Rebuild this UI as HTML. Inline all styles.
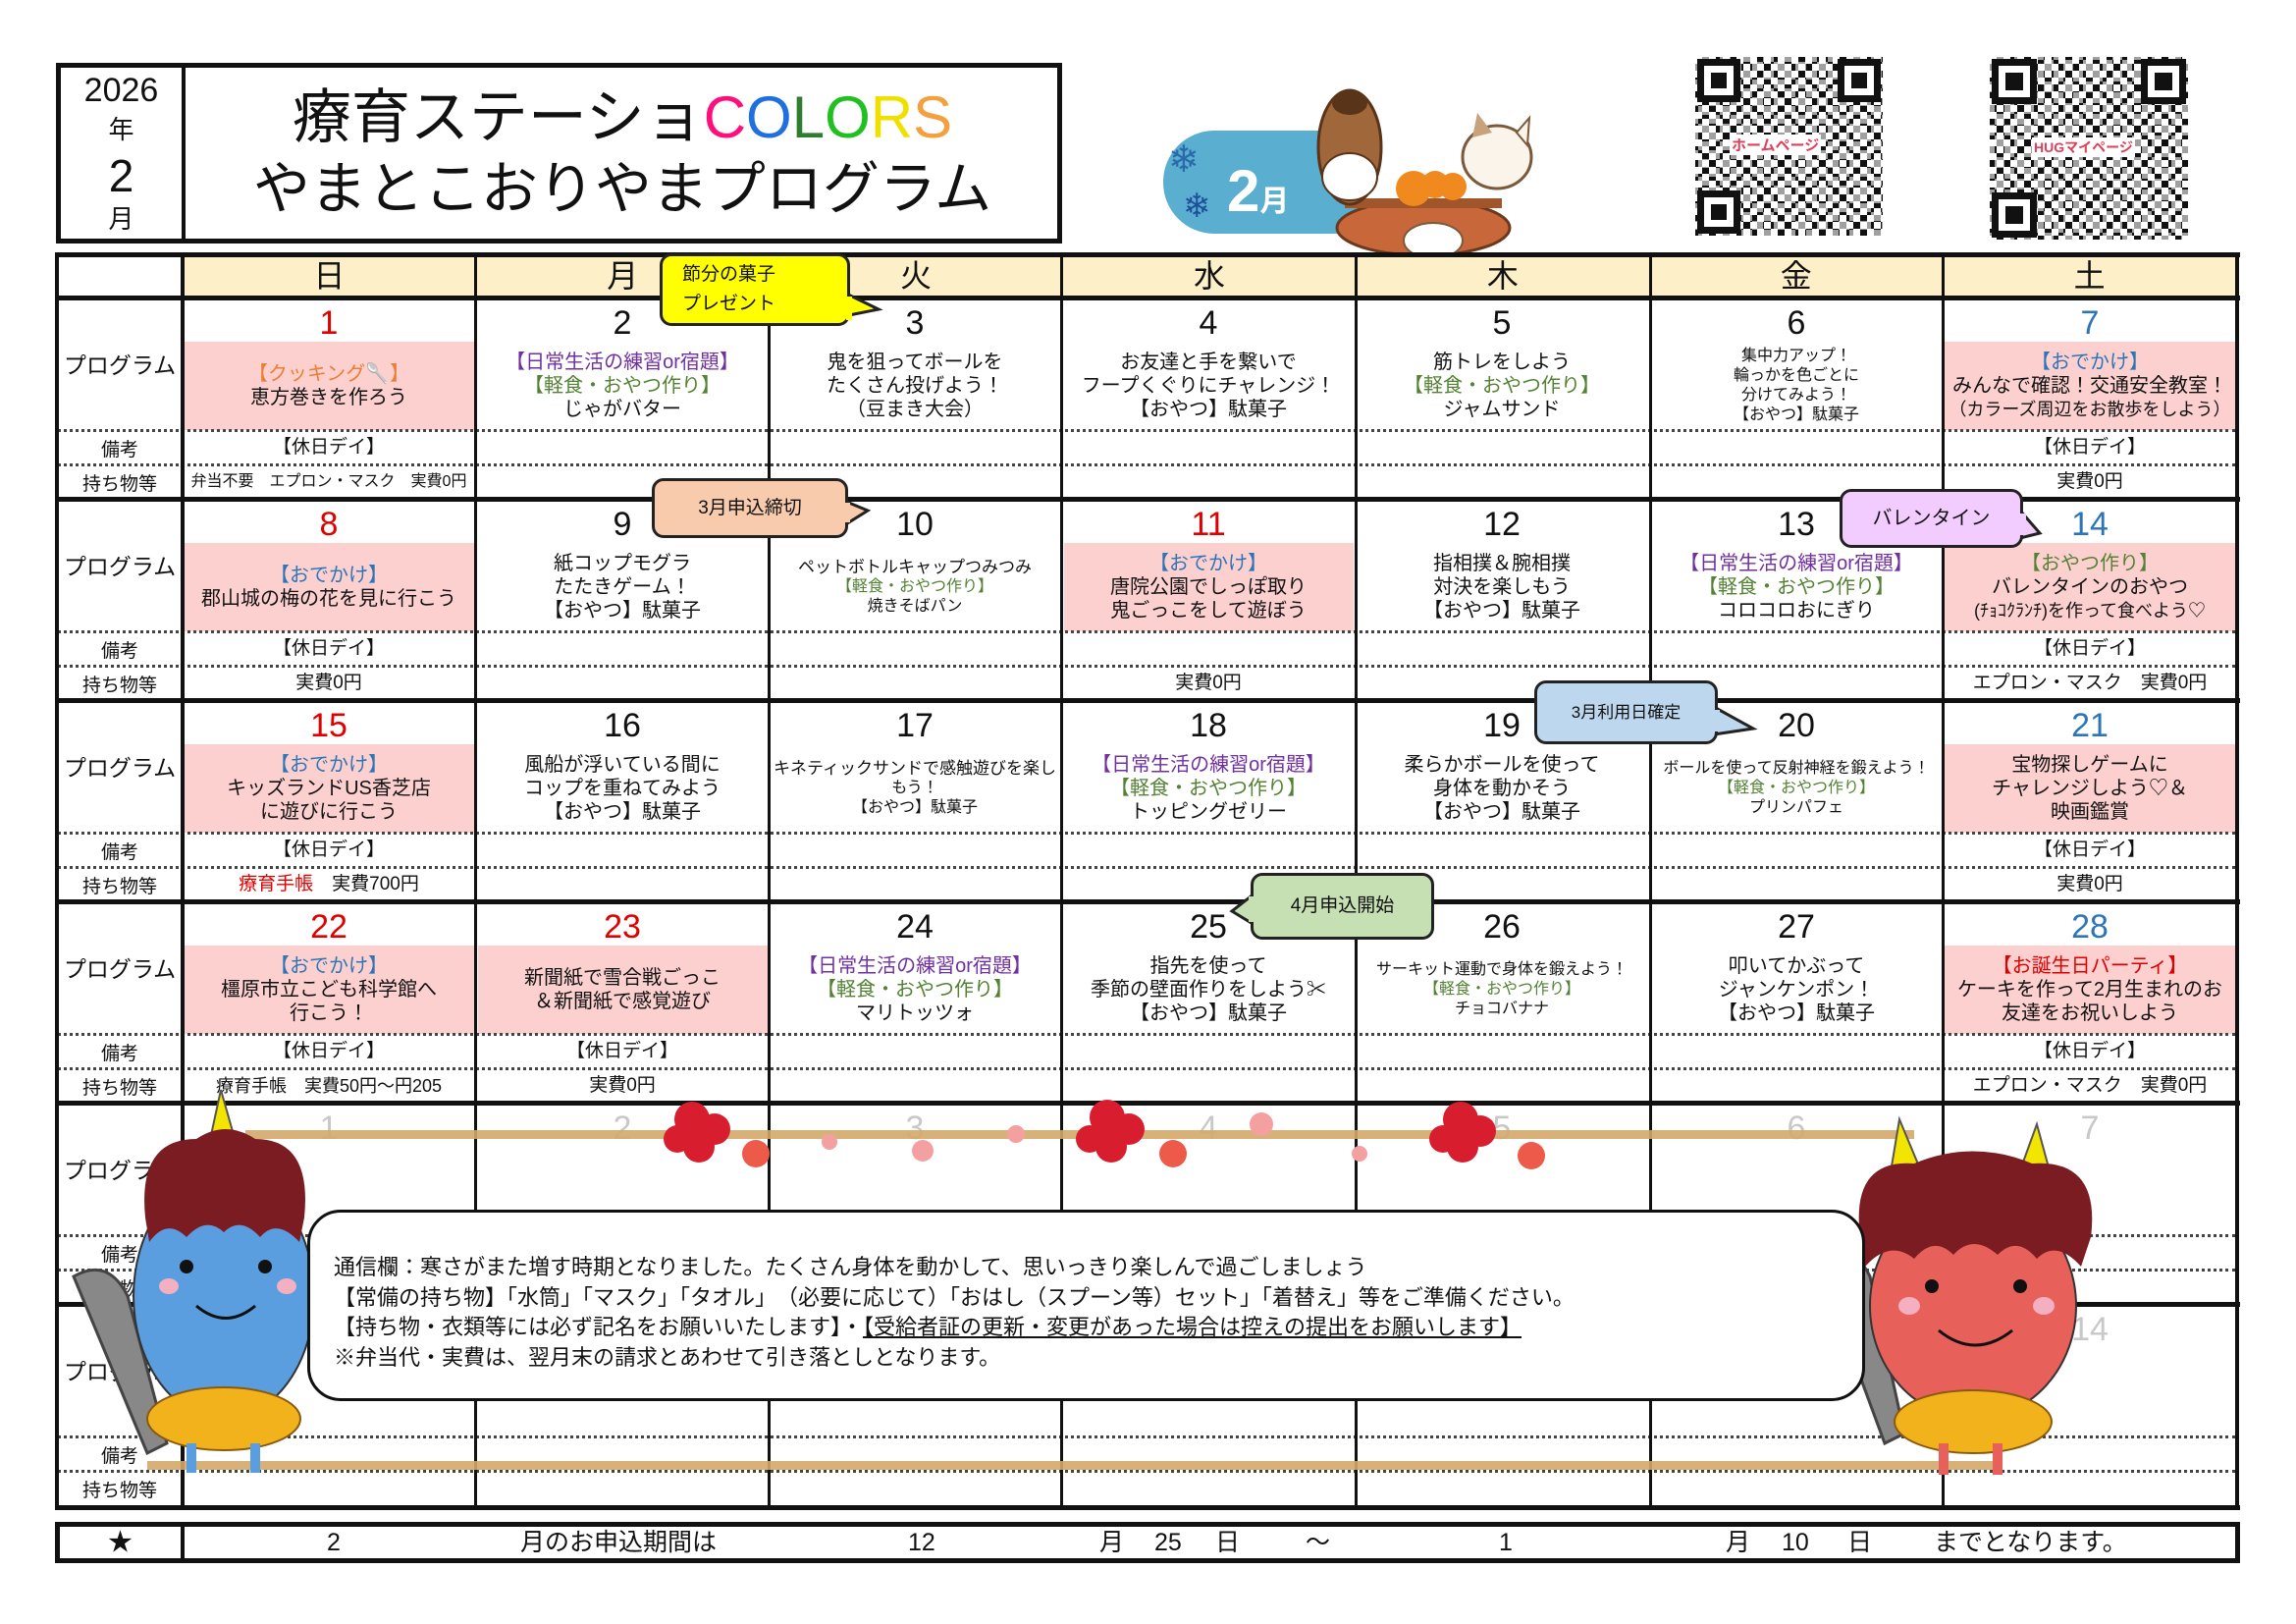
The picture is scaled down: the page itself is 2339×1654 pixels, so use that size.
<!DOCTYPE html>
<html><head><meta charset="utf-8">
<style>
*{margin:0;padding:0;box-sizing:border-box}
body{width:2339px;height:1654px;background:#fff;position:relative;overflow:hidden;font-family:"Liberation Sans","Noto Sans CJK JP",sans-serif;color:#111}
.a{position:absolute}
.hl{position:absolute;background:#111}
.dl{position:absolute;height:0;border-top:3px dotted #444}
.c{position:absolute;width:298px;height:135px}
.n{position:absolute;left:0;right:0;top:6px;text-align:center;font-size:34px;line-height:40px}
.p{position:absolute;left:2px;right:2px;top:45px;height:90px;display:flex;flex-direction:column;justify-content:center;align-items:center;font-size:20px;line-height:24px;text-align:center;white-space:nowrap}
.pk{background:#fdd0d0}
.s{font-size:16px;line-height:20px}
.r{position:absolute;width:298px;height:34px;text-align:center;font-size:19px;line-height:34px;white-space:nowrap}
.lb{position:absolute;left:58px;width:128px;text-align:center;white-space:nowrap}
.or{color:#ed7d31}.pu{color:#7030a0}.gr{color:#548235}.bl{color:#2e75b6}.rd{color:#e00000}
.gy{color:#c8c8c8}
.co{position:absolute;border:3px solid #222;border-radius:12px;display:flex;align-items:center;justify-content:center;font-size:19px;text-align:center;line-height:28px}
</style></head><body>

<!-- header box -->
<div class="a" style="left:57px;top:64px;width:1025px;height:184px;border:5px solid #111"></div>
<div class="hl" style="left:185px;top:64px;width:4px;height:184px"></div>
<div class="a" style="left:62px;top:68px;width:123px;text-align:center">
 <div style="font-size:34px;line-height:40px;margin-top:4px">2026</div>
 <div style="font-size:26px;line-height:40px">年</div>
 <div style="font-size:46px;line-height:54px">2</div>
 <div style="font-size:26px;line-height:34px">月</div>
</div>
<div class="a" style="left:189px;top:84px;width:890px;text-align:center;font-size:60px;line-height:72px;white-space:nowrap">療育ステーショ<span style="color:#ff0f7b">C</span><span style="color:#1f6fe0">O</span><span style="color:#2f7d2f">L</span><span style="color:#20c020">O</span><span style="color:#f0e000">R</span><span style="color:#f5a040">S</span></div>
<div class="a" style="left:189px;top:157px;width:890px;text-align:center;font-size:58px;line-height:72px;white-space:nowrap">やまとこおりやまプログラム</div>

<!-- 2月 banner -->
<div class="a" style="left:1185px;top:133px;width:200px;height:105px;background:#5aaed0;border-radius:52px 0 0 52px"></div>
<div class="a" style="left:1190px;top:140px;font-size:38px;color:#2a6aa8">❄</div>
<div class="a" style="left:1205px;top:190px;font-size:34px;color:#1e4f9a">❄</div>
<div class="a" style="left:1250px;top:160px;font-size:60px;font-weight:bold;color:#fff;line-height:70px">2<span style="font-size:30px">月</span></div>
<svg class="a" style="left:1330px;top:80px" width="250" height="180" viewBox="0 0 250 180">
 <ellipse cx="120" cy="152" rx="88" ry="28" fill="#c8683a" stroke="#6b3a1e" stroke-width="3"/>
 <rect x="40" y="122" width="160" height="10" fill="#a0562a"/>
 <ellipse cx="45" cy="70" rx="32" ry="58" fill="#a0673a" stroke="#5a3418" stroke-width="3"/>
 <ellipse cx="45" cy="100" rx="28" ry="24" fill="#fff" stroke="#5a3418" stroke-width="2"/>
 <ellipse cx="45" cy="25" rx="18" ry="12" fill="#5a3418"/>
 <circle cx="110" cy="112" r="18" fill="#f08a1e"/><circle cx="132" cy="108" r="14" fill="#f08a1e"/><circle cx="150" cy="110" r="14" fill="#f08a1e"/>
 <ellipse cx="195" cy="80" rx="35" ry="32" fill="#fbf4ea" stroke="#7a5a3a" stroke-width="3"/>
 <polygon points="170,60 175,35 190,55" fill="#c8a27a"/><polygon points="215,55 228,40 226,68" fill="#fbf4ea" stroke="#7a5a3a" stroke-width="2"/>
 <ellipse cx="130" cy="165" rx="30" ry="18" fill="#fff" stroke="#7a5a3a" stroke-width="2"/>
</svg>

<!-- QR codes -->
<div class="a" style="left:1727px;top:58px;width:191px;height:182px;background:repeating-conic-gradient(#111 0 25%,#fff 0 50%) 0 0/14px 14px"></div>
<div class="a" style="left:1727px;top:58px;width:191px;height:182px;background:repeating-conic-gradient(#fff 0 25%,transparent 0 50%) 3px 5px/22px 18px;opacity:.6"></div>
<div class="a" style="left:1729px;top:60px;width:44px;height:44px;border:7px solid #111;background:#fff"><div style="margin:7px;width:16px;height:16px;background:#111"></div></div>
<div class="a" style="left:1872px;top:60px;width:44px;height:44px;border:7px solid #111;background:#fff"><div style="margin:7px;width:16px;height:16px;background:#111"></div></div>
<div class="a" style="left:1729px;top:194px;width:44px;height:44px;border:7px solid #111;background:#fff"><div style="margin:7px;width:16px;height:16px;background:#111"></div></div>
<div class="a" style="left:1762px;top:137px;background:#fff;color:#e0405a;font-size:15px;font-weight:bold;padding:0 2px">ホームページ</div>
<div class="a" style="left:2027px;top:58px;width:202px;height:186px;background:repeating-conic-gradient(#111 0 25%,#fff 0 50%) 0 0/14px 14px"></div>
<div class="a" style="left:2027px;top:58px;width:202px;height:186px;background:repeating-conic-gradient(#fff 0 25%,transparent 0 50%) 5px 3px/20px 22px;opacity:.6"></div>
<div class="a" style="left:2029px;top:60px;width:46px;height:46px;border:7px solid #111;background:#fff"><div style="margin:7px;width:18px;height:18px;background:#111"></div></div>
<div class="a" style="left:2181px;top:60px;width:46px;height:46px;border:7px solid #111;background:#fff"><div style="margin:7px;width:18px;height:18px;background:#111"></div></div>
<div class="a" style="left:2029px;top:196px;width:46px;height:46px;border:7px solid #111;background:#fff"><div style="margin:7px;width:18px;height:18px;background:#111"></div></div>
<div class="a" style="left:2070px;top:140px;background:#fff;color:#e0405a;font-size:14px;font-weight:bold;padding:0 2px">HUGマイページ</div>

<!-- grid background -->
<div class="a" style="left:186px;top:260px;width:2092px;height:43px;background:#fdf0c8"></div>
<!-- pink blocks -->
<div class="a pk" style="left:188px;top:348px;width:296px;height:90px"></div>
<div class="a pk" style="left:1981px;top:348px;width:296px;height:90px"></div>
<div class="a pk" style="left:188px;top:553px;width:296px;height:90px"></div>
<div class="a pk" style="left:1084px;top:553px;width:295px;height:90px"></div>
<div class="a pk" style="left:1981px;top:553px;width:296px;height:90px"></div>
<div class="a pk" style="left:188px;top:758px;width:296px;height:90px"></div>
<div class="a pk" style="left:1981px;top:758px;width:296px;height:90px"></div>
<div class="a pk" style="left:188px;top:963px;width:296px;height:90px"></div>
<div class="a pk" style="left:487px;top:963px;width:295px;height:90px"></div>
<div class="a pk" style="left:1981px;top:963px;width:296px;height:90px"></div>

<!-- dotted lines -->
<div class="dl" style="left:58px;top:437px;width:2220px"></div><div class="dl" style="left:58px;top:472px;width:2220px"></div>
<div class="dl" style="left:58px;top:642px;width:2220px"></div><div class="dl" style="left:58px;top:677px;width:2220px"></div>
<div class="dl" style="left:58px;top:847px;width:2220px"></div><div class="dl" style="left:58px;top:882px;width:2220px"></div>
<div class="dl" style="left:58px;top:1052px;width:2220px"></div><div class="dl" style="left:58px;top:1087px;width:2220px"></div>
<div class="dl" style="left:58px;top:1257px;width:2220px"></div><div class="dl" style="left:58px;top:1292px;width:2220px"></div>
<div class="dl" style="left:58px;top:1462px;width:2220px"></div><div class="dl" style="left:58px;top:1497px;width:2220px"></div>

<!-- grid lines -->
<div class="hl" style="left:56px;top:257px;width:2226px;height:5px"></div>
<div class="hl" style="left:56px;top:301px;width:2226px;height:5px"></div>
<div class="hl" style="left:56px;top:506px;width:2226px;height:5px"></div>
<div class="hl" style="left:56px;top:711px;width:2226px;height:5px"></div>
<div class="hl" style="left:56px;top:916px;width:2226px;height:5px"></div>
<div class="hl" style="left:56px;top:1121px;width:2226px;height:5px"></div>
<div class="hl" style="left:56px;top:1326px;width:2226px;height:5px"></div>
<div class="hl" style="left:56px;top:1533px;width:2226px;height:5px"></div>
<div class="hl" style="left:56px;top:257px;width:4px;height:1281px"></div>
<div class="hl" style="left:184px;top:257px;width:4px;height:1281px"></div>
<div class="hl" style="left:483px;top:257px;width:3px;height:1281px"></div>
<div class="hl" style="left:782px;top:257px;width:3px;height:1281px"></div>
<div class="hl" style="left:1080px;top:257px;width:3px;height:1281px"></div>
<div class="hl" style="left:1380px;top:257px;width:3px;height:1281px"></div>
<div class="hl" style="left:1680px;top:257px;width:3px;height:1281px"></div>
<div class="hl" style="left:1978px;top:257px;width:3px;height:1281px"></div>
<div class="hl" style="left:2277px;top:257px;width:4px;height:1281px"></div>

<!-- day header -->
<div class="a" style="left:186px;top:260px;width:2092px;height:43px;display:flex;font-size:32px;line-height:43px;text-align:center">
<div style="width:299px">日</div><div style="width:299px">月</div><div style="width:299px">火</div><div style="width:299px">水</div><div style="width:299px">木</div><div style="width:299px">金</div><div style="width:299px">土</div></div>

<!-- labels -->
<div class="lb" style="top:353px;font-size:23px">プログラム</div><div class="lb" style="top:443px;font-size:19px">備考</div><div class="lb" style="top:478px;font-size:19px">持ち物等</div>
<div class="lb" style="top:558px;font-size:23px">プログラム</div><div class="lb" style="top:648px;font-size:19px">備考</div><div class="lb" style="top:683px;font-size:19px">持ち物等</div>
<div class="lb" style="top:763px;font-size:23px">プログラム</div><div class="lb" style="top:853px;font-size:19px">備考</div><div class="lb" style="top:888px;font-size:19px">持ち物等</div>
<div class="lb" style="top:968px;font-size:23px">プログラム</div><div class="lb" style="top:1058px;font-size:19px">備考</div><div class="lb" style="top:1093px;font-size:19px">持ち物等</div>
<div class="lb" style="top:1173px;font-size:23px">プログラム</div><div class="lb" style="top:1263px;font-size:19px">備考</div><div class="lb" style="top:1298px;font-size:19px">持ち物等</div>
<div class="lb" style="top:1378px;font-size:23px">プログラム</div><div class="lb" style="top:1468px;font-size:19px">備考</div><div class="lb" style="top:1503px;font-size:19px">持ち物等</div>

<!-- week 1 (top 303) -->
<div class="c" style="left:186px;top:303px"><div class="n rd">1</div><div class="p"><span class="or">【クッキング🥄】</span><span>恵方巻きを作ろう</span></div></div>
<div class="c" style="left:485px;top:303px"><div class="n">2</div><div class="p"><span class="pu">【日常生活の練習or宿題】</span><span class="gr">【軽食・おやつ作り】</span><span>じゃがバター</span></div></div>
<div class="c" style="left:783px;top:303px"><div class="n">3</div><div class="p"><span>鬼を狙ってボールを</span><span>たくさん投げよう！</span><span>（豆まき大会）</span></div></div>
<div class="c" style="left:1082px;top:303px"><div class="n">4</div><div class="p"><span>お友達と手を繋いで</span><span>フープくぐりにチャレンジ！</span><span>【おやつ】駄菓子</span></div></div>
<div class="c" style="left:1381px;top:303px"><div class="n">5</div><div class="p"><span>筋トレをしよう</span><span class="gr">【軽食・おやつ作り】</span><span>ジャムサンド</span></div></div>
<div class="c" style="left:1681px;top:303px"><div class="n">6</div><div class="p s"><span>集中力アップ！</span><span>輪っかを色ごとに</span><span>分けてみよう！</span><span>【おやつ】駄菓子</span></div></div>
<div class="c" style="left:1980px;top:303px"><div class="n bl">7</div><div class="p"><span class="bl">【おでかけ】</span><span>みんなで確認！交通安全教室！</span><span style="font-size:18px">（カラーズ周辺をお散歩をしよう）</span></div></div>
<div class="r" style="left:186px;top:439px">【休日デイ】</div><div class="r" style="left:1980px;top:439px">【休日デイ】</div>
<div class="r" style="left:186px;top:474px;font-size:16px">弁当不要　エプロン・マスク　実費0円</div><div class="r" style="left:1980px;top:474px">実費0円</div>

<!-- week 2 (top 508) -->
<div class="c" style="left:186px;top:508px"><div class="n rd">8</div><div class="p"><span class="bl">【おでかけ】</span><span>郡山城の梅の花を見に行こう</span></div></div>
<div class="c" style="left:485px;top:508px"><div class="n">9</div><div class="p"><span>紙コップモグラ</span><span>たたきゲーム！</span><span>【おやつ】駄菓子</span></div></div>
<div class="c" style="left:783px;top:508px"><div class="n">10</div><div class="p s"><span style="font-size:17px">ペットボトルキャップつみつみ</span><span class="gr">【軽食・おやつ作り】</span><span>焼きそばパン</span></div></div>
<div class="c" style="left:1082px;top:508px"><div class="n rd">11</div><div class="p"><span class="bl">【おでかけ】</span><span>唐院公園でしっぽ取り</span><span>鬼ごっこをして遊ぼう</span></div></div>
<div class="c" style="left:1381px;top:508px"><div class="n">12</div><div class="p"><span>指相撲＆腕相撲</span><span>対決を楽しもう</span><span>【おやつ】駄菓子</span></div></div>
<div class="c" style="left:1681px;top:508px"><div class="n">13</div><div class="p"><span class="pu">【日常生活の練習or宿題】</span><span class="gr">【軽食・おやつ作り】</span><span>コロコロおにぎり</span></div></div>
<div class="c" style="left:1980px;top:508px"><div class="n bl">14</div><div class="p"><span class="gr">【おやつ作り】</span><span>バレンタインのおやつ</span><span style="font-size:18px">(ﾁｮｺｸﾗﾝﾁ)を作って食べよう♡</span></div></div>
<div class="r" style="left:186px;top:644px">【休日デイ】</div><div class="r" style="left:1980px;top:644px">【休日デイ】</div>
<div class="r" style="left:186px;top:679px">実費0円</div><div class="r" style="left:1082px;top:679px">実費0円</div><div class="r" style="left:1980px;top:679px">エプロン・マスク　実費0円</div>

<!-- week 3 (top 713) -->
<div class="c" style="left:186px;top:713px"><div class="n rd">15</div><div class="p"><span class="bl">【おでかけ】</span><span>キッズランドUS香芝店</span><span>に遊びに行こう</span></div></div>
<div class="c" style="left:485px;top:713px"><div class="n">16</div><div class="p"><span>風船が浮いている間に</span><span>コップを重ねてみよう</span><span>【おやつ】駄菓子</span></div></div>
<div class="c" style="left:783px;top:713px"><div class="n">17</div><div class="p s"><span style="font-size:17px">キネティックサンドで感触遊びを楽し</span><span>もう！</span><span>【おやつ】駄菓子</span></div></div>
<div class="c" style="left:1082px;top:713px"><div class="n">18</div><div class="p"><span class="pu">【日常生活の練習or宿題】</span><span class="gr">【軽食・おやつ作り】</span><span>トッピングゼリー</span></div></div>
<div class="c" style="left:1381px;top:713px"><div class="n">19</div><div class="p"><span>柔らかボールを使って</span><span>身体を動かそう</span><span>【おやつ】駄菓子</span></div></div>
<div class="c" style="left:1681px;top:713px"><div class="n">20</div><div class="p s"><span>ボールを使って反射神経を鍛えよう！</span><span class="gr">【軽食・おやつ作り】</span><span>プリンパフェ</span></div></div>
<div class="c" style="left:1980px;top:713px"><div class="n bl">21</div><div class="p"><span>宝物探しゲームに</span><span>チャレンジしよう♡＆</span><span>映画鑑賞</span></div></div>
<div class="r" style="left:186px;top:849px">【休日デイ】</div><div class="r" style="left:1980px;top:849px">【休日デイ】</div>
<div class="r" style="left:186px;top:884px"><span class="rd">療育手帳</span>　実費700円</div><div class="r" style="left:1980px;top:884px">実費0円</div>

<!-- week 4 (top 918) -->
<div class="c" style="left:186px;top:918px"><div class="n rd">22</div><div class="p"><span class="bl">【おでかけ】</span><span>橿原市立こども科学館へ</span><span>行こう！</span></div></div>
<div class="c" style="left:485px;top:918px"><div class="n rd">23</div><div class="p"><span>新聞紙で雪合戦ごっこ</span><span>＆新聞紙で感覚遊び</span></div></div>
<div class="c" style="left:783px;top:918px"><div class="n">24</div><div class="p"><span class="pu">【日常生活の練習or宿題】</span><span class="gr">【軽食・おやつ作り】</span><span>マリトッツォ</span></div></div>
<div class="c" style="left:1082px;top:918px"><div class="n">25</div><div class="p"><span>指先を使って</span><span>季節の壁面作りをしよう✂</span><span>【おやつ】駄菓子</span></div></div>
<div class="c" style="left:1381px;top:918px"><div class="n">26</div><div class="p s"><span>サーキット運動で身体を鍛えよう！</span><span class="gr">【軽食・おやつ作り】</span><span>チョコバナナ</span></div></div>
<div class="c" style="left:1681px;top:918px"><div class="n">27</div><div class="p"><span>叩いてかぶって</span><span>ジャンケンポン！</span><span>【おやつ】駄菓子</span></div></div>
<div class="c" style="left:1980px;top:918px"><div class="n bl">28</div><div class="p"><span class="rd">【お誕生日パーティ】</span><span>ケーキを作って2月生まれのお</span><span>友達をお祝いしよう</span></div></div>
<div class="r" style="left:186px;top:1054px">【休日デイ】</div><div class="r" style="left:485px;top:1054px">【休日デイ】</div><div class="r" style="left:1980px;top:1054px">【休日デイ】</div>
<div class="r" style="left:186px;top:1089px;font-size:18px">療育手帳　実費50円～円205</div><div class="r" style="left:485px;top:1089px">実費0円</div><div class="r" style="left:1980px;top:1089px">エプロン・マスク　実費0円</div>

<!-- week 5 faint numbers -->
<div class="c" style="left:186px;top:1123px"><div class="n gy">1</div></div>
<div class="c" style="left:485px;top:1123px"><div class="n gy">2</div></div>
<div class="c" style="left:783px;top:1123px"><div class="n gy">3</div></div>
<div class="c" style="left:1082px;top:1123px"><div class="n gy">4</div></div>
<div class="c" style="left:1381px;top:1123px"><div class="n gy">5</div></div>
<div class="c" style="left:1681px;top:1123px"><div class="n gy">6</div></div>
<div class="c" style="left:1980px;top:1123px"><div class="n gy">7</div></div>
<div class="c" style="left:1980px;top:1328px"><div class="n gy">14</div></div>

<!-- bottom bar -->
<div class="a" style="left:56px;top:1550px;width:2226px;height:42px;border:5px solid #111"></div>
<div class="hl" style="left:184px;top:1550px;width:4px;height:42px"></div>
<div class="a" style="left:0;top:1552px;width:2339px;height:38px;font-size:25px;line-height:38px;white-space:nowrap">
<span class="a" style="left:110px">★</span><span class="a" style="left:333px">2</span><span class="a" style="left:530px">月のお申込期間は</span><span class="a" style="left:925px">12</span><span class="a" style="left:1120px">月</span><span class="a" style="left:1176px">25</span><span class="a" style="left:1238px">日</span><span class="a" style="left:1330px">～</span><span class="a" style="left:1527px">1</span><span class="a" style="left:1758px">月</span><span class="a" style="left:1815px">10</span><span class="a" style="left:1882px">日</span><span class="a" style="left:1970px">までとなります。</span></div>

<!-- callouts -->
<svg class="a" style="left:0;top:0" width="2339" height="1654">
 <polygon points="860,298 895,315 860,322" fill="#ffff00" stroke="#222" stroke-width="3"/>
 <polygon points="860,510 884,520 860,535" fill="#f8cbad" stroke="#222" stroke-width="3"/>
 <polygon points="2058,520 2078,543 2058,548" fill="#f3ccff" stroke="#222" stroke-width="3"/>
 <polygon points="1746,720 1786,742 1746,748" fill="#bdd7ee" stroke="#222" stroke-width="3"/>
 <polygon points="1278,910 1255,928 1278,942" fill="#c6e0b4" stroke="#222" stroke-width="3"/>
</svg>
<div class="co" style="left:672px;top:258px;width:194px;height:74px;background:#ffff00;justify-content:flex-start;padding-left:20px;text-align:left;line-height:30px;font-size:19px">節分の菓子<br>プレゼント</div>
<div class="co" style="left:664px;top:487px;width:200px;height:61px;background:#f8cbad">3月申込締切</div>
<div class="co" style="left:1874px;top:498px;width:187px;height:60px;background:#f3ccff;font-size:20px">バレンタイン</div>
<div class="co" style="left:1563px;top:693px;width:187px;height:65px;background:#bdd7ee;font-size:17px">3月利用日確定</div>
<div class="co" style="left:1274px;top:889px;width:187px;height:68px;background:#c6e0b4">4月申込開始</div>
<svg class="a" style="left:0;top:0" width="2339" height="1654">
 <rect x="862" y="302" width="6" height="24" fill="#ffff00"/>
 <rect x="858" y="512" width="8" height="20" fill="#f8cbad"/>
 <rect x="2056" y="523" width="8" height="22" fill="#f3ccff"/>
 <rect x="1744" y="723" width="8" height="22" fill="#bdd7ee"/>
 <rect x="1272" y="913" width="8" height="26" fill="#c6e0b4"/>
</svg>

<!-- decoration: ropes, flowers, oni -->
<svg class="a" style="left:0;top:0" width="2339" height="1654">
 <rect x="250" y="1151" width="1700" height="9" fill="#d4a86a" opacity=".9"/>
 <rect x="150" y="1488" width="1880" height="9" fill="#d4a86a" opacity=".9"/>
 <g fill="#d81e2e">
  <circle cx="705" cy="1140" r="18"/><circle cx="728" cy="1150" r="16"/><circle cx="712" cy="1168" r="16"/><circle cx="690" cy="1160" r="14"/>
  <circle cx="1128" cy="1138" r="18"/><circle cx="1150" cy="1150" r="16"/><circle cx="1132" cy="1168" r="16"/><circle cx="1110" cy="1160" r="14"/>
  <circle cx="1488" cy="1140" r="18"/><circle cx="1508" cy="1152" r="16"/><circle cx="1490" cy="1168" r="16"/><circle cx="1470" cy="1160" r="14"/>
 </g>
 <g fill="#ee5a4a"><circle cx="770" cy="1175" r="14"/><circle cx="1195" cy="1175" r="14"/><circle cx="1560" cy="1177" r="14"/></g>
 <g fill="#f4a0a0"><circle cx="845" cy="1163" r="8"/><circle cx="940" cy="1172" r="11"/><circle cx="1035" cy="1155" r="9"/><circle cx="1285" cy="1145" r="12"/><circle cx="1385" cy="1175" r="8"/></g>
 <!-- blue oni -->
 <path d="M75 1300 Q110 1280 130 1320 L170 1470 L150 1480 Z" fill="#888" stroke="#444" stroke-width="3"/>
 <polygon points="225,1110 212,1170 242,1170" fill="#f2e600" stroke="#555" stroke-width="2"/>
 <ellipse cx="228" cy="1320" rx="92" ry="125" fill="#5b9ee0" stroke="#333" stroke-width="2"/>
 <path d="M148 1240 Q140 1160 200 1160 Q230 1140 260 1160 Q318 1160 310 1240 L305 1265 Q282 1240 265 1260 Q245 1238 228 1255 Q210 1238 190 1260 Q170 1240 152 1265 Z" fill="#7a1c22"/>
 <circle cx="190" cy="1290" r="7" fill="#111"/><circle cx="270" cy="1290" r="7" fill="#111"/>
 <ellipse cx="172" cy="1310" rx="10" ry="8" fill="#f4b0c0"/><ellipse cx="292" cy="1310" rx="10" ry="8" fill="#f4b0c0"/>
 <path d="M200 1330 Q230 1355 260 1330" fill="none" stroke="#111" stroke-width="3"/>
 <ellipse cx="228" cy="1445" rx="78" ry="32" fill="#f2b21c" stroke="#8a5a10" stroke-width="2"/>
 <rect x="190" y="1470" width="10" height="30" fill="#5b9ee0"/><rect x="255" y="1470" width="10" height="30" fill="#5b9ee0"/>
 <!-- red oni -->
 <path d="M1850 1280 Q1885 1260 1905 1300 L1940 1460 L1920 1470 Z" fill="#888" stroke="#444" stroke-width="3"/>
 <polygon points="1935,1140 1925,1200 1960,1200" fill="#f2e600" stroke="#555" stroke-width="2"/>
 <polygon points="2075,1145 2055,1200 2090,1200" fill="#f2e600" stroke="#555" stroke-width="2"/>
 <ellipse cx="2010" cy="1330" rx="105" ry="115" fill="#e8605a" stroke="#333" stroke-width="2"/>
 <path d="M1895 1260 Q1885 1180 1950 1185 Q2010 1160 2070 1185 Q2140 1180 2130 1260 L2120 1290 Q2095 1262 2075 1282 Q2055 1258 2035 1278 Q2010 1256 1990 1278 Q1970 1258 1950 1282 Q1925 1262 1900 1290 Z" fill="#7a1c22"/>
 <circle cx="1968" cy="1310" r="7" fill="#111"/><circle cx="2058" cy="1310" r="7" fill="#111"/>
 <ellipse cx="1945" cy="1330" rx="11" ry="9" fill="#f4b0c0"/><ellipse cx="2082" cy="1330" rx="11" ry="9" fill="#f4b0c0"/>
 <path d="M1975 1355 Q2012 1385 2050 1355" fill="none" stroke="#111" stroke-width="3"/>
 <ellipse cx="2010" cy="1448" rx="80" ry="32" fill="#f2b21c" stroke="#8a5a10" stroke-width="2"/>
 <rect x="1975" y="1470" width="10" height="32" fill="#e8605a"/><rect x="2030" y="1470" width="10" height="32" fill="#e8605a"/>
</svg>

<!-- communication box -->
<div class="a" style="left:313px;top:1232px;width:1587px;height:195px;background:#fff;border:3px solid #111;border-radius:34px"></div>
<div class="a" style="left:340px;top:1276px;font-size:22px;line-height:30.5px;white-space:nowrap">
<div>通信欄：寒さがまた増す時期となりました。たくさん身体を動かして、思いっきり楽しんで過ごしましょう</div>
<div>【常備の持ち物】「水筒」「マスク」「タオル」　（必要に応じて）「おはし（スプーン等）セット」「着替え」等をご準備ください。</div>
<div>【持ち物・衣類等には必ず記名をお願いいたします】・<u>【受給者証の更新・変更があった場合は控えの提出をお願いします】</u></div>
<div>※弁当代・実費は、翌月末の請求とあわせて引き落としとなります。</div>
</div>
</body></html>
